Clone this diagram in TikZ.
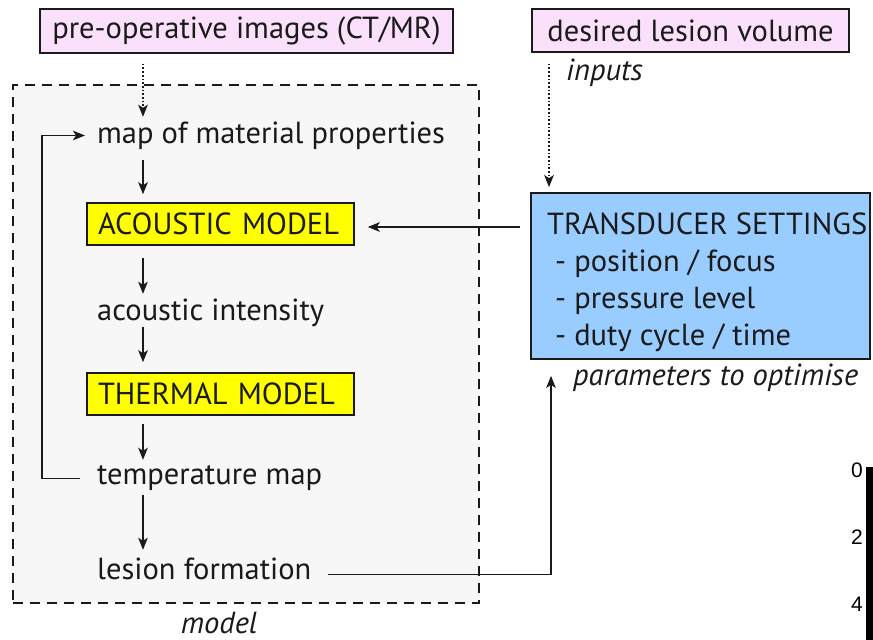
\documentclass[tikz,border=0pt]{standalone}
\usepackage{fontspec}
\setmainfont{PT Sans}
\newfontfamily\numfont{Liberation Sans}
\usetikzlibrary{arrows.meta}
\definecolor{pinkfill}{HTML}{FBE0FB}
\definecolor{yellowfill}{HTML}{FFFF00}
\definecolor{bluefill}{HTML}{99CCFF}
\definecolor{greyfill}{HTML}{F7F7F7}
\definecolor{ink}{HTML}{1A1A1A}
\begin{document}
\begin{tikzpicture}[x=1pt,y=-1pt,
  every node/.style={text=ink},
  bodyfont/.style={font=\fontsize{30.5}{34}\selectfont},
  pinkbox/.style={draw=ink, line width=1.5pt, fill=pinkfill, bodyfont, inner sep=0pt},
  modbox/.style={draw=ink, line width=1.5pt, fill=yellowfill, bodyfont, inner sep=0pt,
     minimum width=267pt, minimum height=42pt, text width=245pt, align=left},
  setbox/.style={draw=ink, line width=1.7pt, fill=bluefill, inner sep=0pt,
     minimum width=339pt, minimum height=166pt},
  flowtext/.style={bodyfont, inner sep=0pt, text height=22pt, text depth=7pt, anchor=base west},
  plaintext/.style={bodyfont, inner sep=0pt, anchor=base west},
  note/.style={font=\fontsize{30.5}{34}\selectfont\itshape, inner sep=0pt},
  arrow/.style={draw=ink, line width=1.7pt, -{Stealth[length=12pt,width=9.5pt,inset=3pt]}},
  dotarrow/.style={arrow, dotted},
  modelframe/.style={draw=ink, line width=1.8pt, dash pattern=on 10pt off 7pt, fill=greyfill,
     inner sep=0pt, minimum width=466pt, minimum height=518pt},
  scalelabel/.style={font=\numfont\fontsize{21}{24}\selectfont, inner sep=0pt, anchor=base east, text=black}
]
\useasboundingbox (0,0) rectangle (873,640);
\fill[white] (0,0) rectangle (873,640);

% model frame
\node[modelframe] (frame) at (246,344) {};
\node[note, anchor=base] (modellabel) at (219,633) {model};

% inputs
\node[pinkbox, minimum width=413pt, minimum height=44pt] (pre) at (246.5,31) {pre-operative images (CT/MR)};
\node[pinkbox, minimum width=317pt, minimum height=43pt] (dlv) at (690.5,30.5) {desired lesion volume};
\node[note, anchor=base west] (inputs) at (566,80) {inputs};

% model chain
\node[flowtext] (map) at (97,143) {map of material properties};
\node[modbox] (ac) at (220.5,224) {ACOUSTIC MODEL};
\node[flowtext] (inten) at (97,320) {acoustic intensity};
\node[modbox] (th) at (220.5,394) {THERMAL MODEL};
\node[flowtext] (temp) at (97,484) {temperature map};
\node[flowtext] (lesion) at (97,579) {lesion formation};

% transducer settings
\node[setbox] (ts) at (700.5,276) {};
\node[plaintext] (tstitle) at (547,234) {TRANSDUCER SETTINGS};
\node[plaintext] (ts1) at (555,271) {- position / focus};
\node[plaintext] (ts2) at (555,308) {- pressure level};
\node[plaintext] (ts3) at (555,345) {- duty cycle / time};
\node[note, anchor=base west] (params) at (573,385) {parameters to optimise};

% helper coordinates
\coordinate (spine) at (143,0);
\coordinate (fbx) at (42,0);
\coordinate (upx) at (551,0);
\coordinate (inx) at (549,0);
\coordinate (acin) at ([yshift=-3pt]ac.east);
\coordinate (tempout) at ([yshift=-2pt]temp.west);
\coordinate (lesout) at ([yshift=-3pt]lesion.east);

% connectors
\draw[dotarrow, shorten <=10pt, shorten >=4pt] (pre.south -| spine) -- (map.north -| spine);
\draw[dotarrow, shorten <=11pt, shorten >=5pt] (dlv.south -| inx) -- (ts.north -| inx);
\draw[arrow, shorten <=10pt, shorten >=8pt] (map.south -| spine) -- (ac.north -| spine);
\draw[arrow, shorten <=12pt, shorten >=4pt] (ac.south -| spine) -- (inten.north -| spine);
\draw[arrow, shorten <=0pt, shorten >=10pt] (inten.south -| spine) -- (th.north -| spine);
\draw[arrow, shorten <=8pt, shorten >=2pt] (th.south -| spine) -- (temp.north -| spine);
\draw[arrow, shorten <=4pt, shorten >=7pt] (temp.south -| spine) -- (lesion.north -| spine);
\draw[arrow, shorten <=17pt, shorten >=12pt] (tempout) -- (tempout -| fbx) |- (map.west);
\draw[arrow, shorten <=10pt, shorten >=13pt] (ts.west |- acin) -- (acin);
\draw[arrow, shorten <=16pt, shorten >=16pt] (lesout) -| (ts.south -| upx);

% scale bar
\fill[black] (866,467) rectangle (873,640);
\node[scalelabel] (s0) at (863,477) {0};
\node[scalelabel] (s2) at (863,544) {2};
\node[scalelabel] (s4) at (863,611) {4};
\end{tikzpicture}
\end{document}
